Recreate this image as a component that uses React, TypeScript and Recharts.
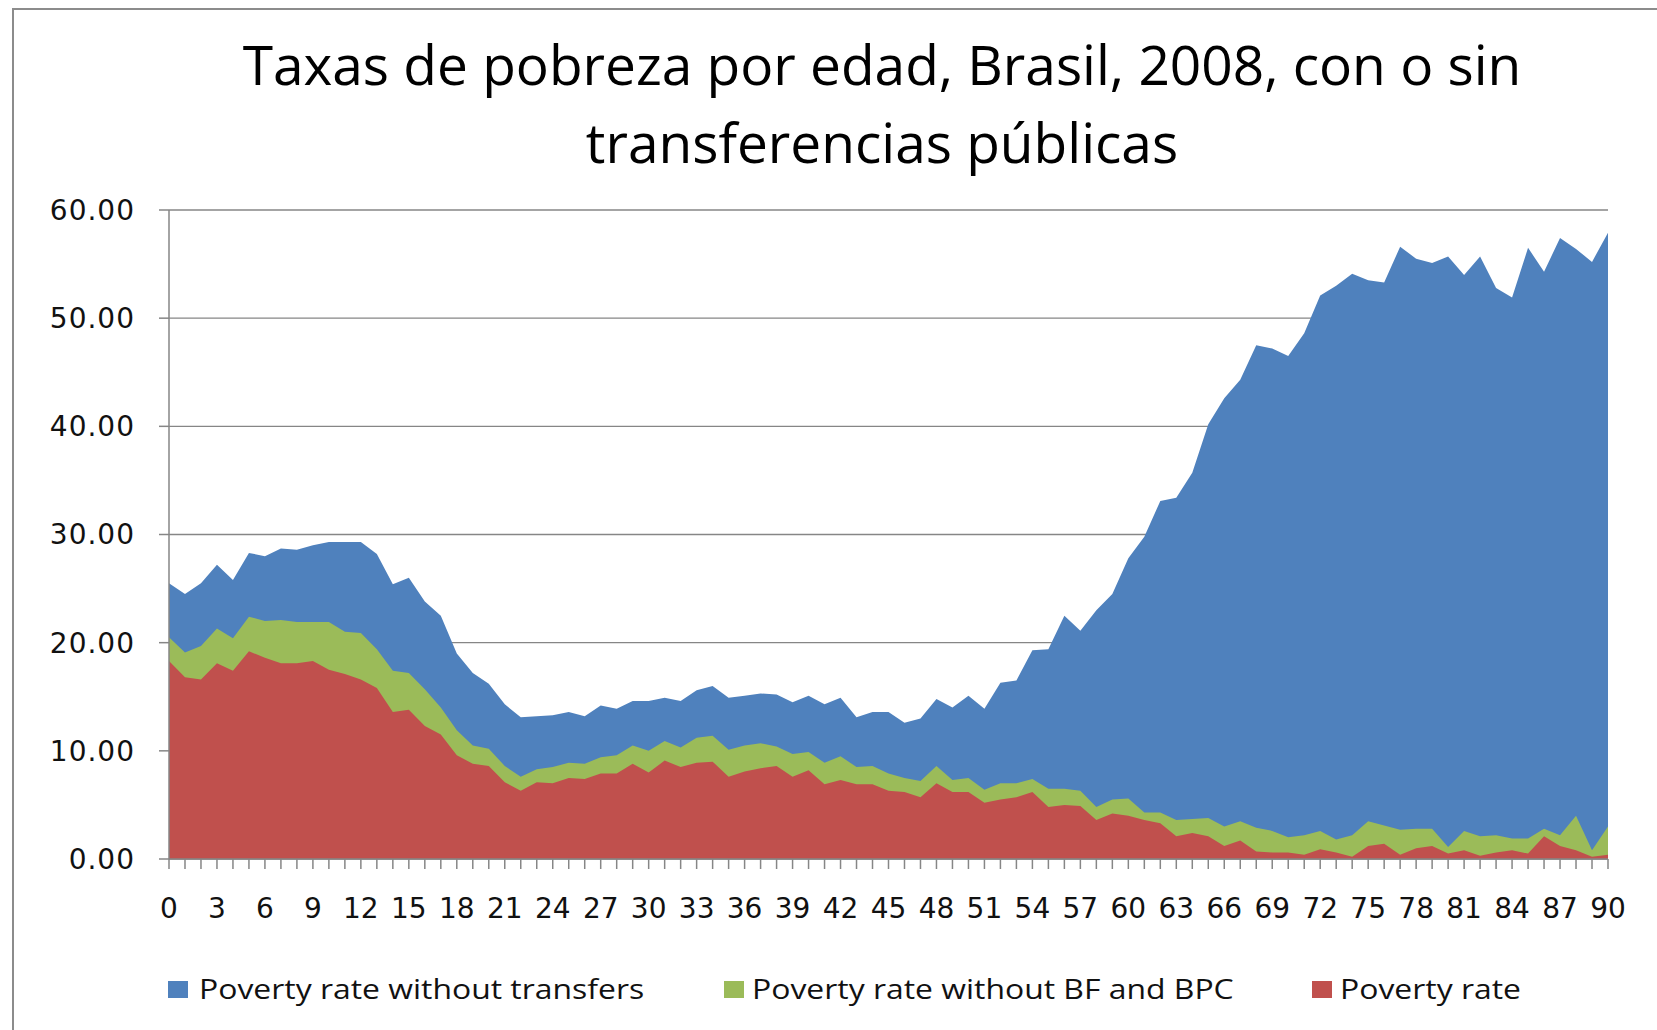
import React from 'react';
import { AreaChart, Area, XAxis, YAxis, CartesianGrid, Legend } from 'recharts';

const AGES = [
  0, 1, 2, 3, 4, 5, 6, 7, 8, 9, 10, 11, 12, 13, 14, 15, 16, 17, 18, 19, 20,
  21, 22, 23, 24, 25, 26, 27, 28, 29, 30, 31, 32, 33, 34, 35, 36, 37, 38, 39, 40,
  41, 42, 43, 44, 45, 46, 47, 48, 49, 50, 51, 52, 53, 54, 55, 56, 57, 58, 59, 60,
  61, 62, 63, 64, 65, 66, 67, 68, 69, 70, 71, 72, 73, 74, 75, 76, 77, 78, 79, 80,
  81, 82, 83, 84, 85, 86, 87, 88, 89, 90,
];

const WITHOUT_TRANSFERS = [
  25.5, 24.5, 25.5, 27.2, 25.8, 28.3, 28.0, 28.7, 28.6, 29.0, 29.3, 29.3, 29.3, 28.2, 25.4, 26.0, 23.8, 22.5, 19.0, 17.2, 16.2,
  14.3, 13.1, 13.2, 13.3, 13.6, 13.2, 14.2, 13.9, 14.6, 14.6, 14.9, 14.6, 15.6, 16.0, 14.9, 15.1, 15.3, 15.2, 14.5, 15.1,
  14.3, 14.9, 13.1, 13.6, 13.6, 12.6, 13.0, 14.8, 14.0, 15.1, 13.9, 16.3, 16.5, 19.3, 19.4, 22.5, 21.1, 23.0, 24.5, 27.8,
  29.8, 33.1, 33.4, 35.7, 40.2, 42.6, 44.3, 47.5, 47.2, 46.5, 48.6, 52.1, 53.0, 54.1, 53.5, 53.3, 56.6, 55.5, 55.1, 55.7,
  54.0, 55.7, 52.8, 51.9, 56.5, 54.3, 57.4, 56.4, 55.2, 57.9,
];

const WITHOUT_BF_BPC = [
  20.5, 19.1, 19.7, 21.3, 20.4, 22.4, 22.0, 22.1, 21.9, 21.9, 21.9, 21.0, 20.9, 19.4, 17.4, 17.2, 15.7, 14.0, 11.9, 10.5, 10.2,
  8.6, 7.6, 8.3, 8.5, 8.9, 8.8, 9.4, 9.6, 10.5, 10.0, 10.9, 10.3, 11.2, 11.4, 10.1, 10.5, 10.7, 10.4, 9.7, 9.9,
  8.9, 9.5, 8.5, 8.6, 7.9, 7.5, 7.2, 8.6, 7.3, 7.5, 6.4, 7.0, 7.0, 7.4, 6.5, 6.5, 6.3, 4.8, 5.5, 5.6,
  4.3, 4.3, 3.6, 3.7, 3.8, 3.0, 3.5, 2.9, 2.6, 2.0, 2.2, 2.6, 1.8, 2.2, 3.5, 3.1, 2.7, 2.8, 2.8, 1.1,
  2.6, 2.1, 2.2, 1.9, 1.9, 2.8, 2.2, 4.0, 0.8, 3.0,
];

const POVERTY_RATE = [
  18.3, 16.8, 16.6, 18.1, 17.4, 19.2, 18.6, 18.1, 18.1, 18.3, 17.5, 17.1, 16.6, 15.8, 13.6, 13.8, 12.3, 11.5, 9.6, 8.8, 8.6,
  7.1, 6.3, 7.1, 7.0, 7.5, 7.4, 7.9, 7.9, 8.8, 8.0, 9.1, 8.5, 8.9, 9.0, 7.6, 8.1, 8.4, 8.6, 7.6, 8.2,
  6.9, 7.3, 6.9, 6.9, 6.3, 6.2, 5.7, 7.0, 6.2, 6.2, 5.2, 5.5, 5.7, 6.2, 4.8, 5.0, 4.9, 3.6, 4.2, 4.0,
  3.6, 3.3, 2.1, 2.4, 2.1, 1.2, 1.7, 0.7, 0.6, 0.6, 0.4, 0.9, 0.6, 0.2, 1.2, 1.4, 0.4, 1.0, 1.2, 0.5,
  0.8, 0.3, 0.6, 0.8, 0.5, 2.1, 1.2, 0.8, 0.2, 0.4,
];

const Y_TICKS = [0, 10, 20, 30, 40, 50, 60];

const SERIES_NAMES = [
  'Poverty rate without transfers',
  'Poverty rate without BF and BPC',
  'Poverty rate',
];
const SERIES_KEYS = ['noTransfers', 'noBfBpc', 'rate'];
const SERIES_COLORS = ['#4F81BD', '#9BBB59', '#C0504D'];

const TITLE_LINES = ['Taxas de pobreza por edad, Brasil, 2008, con o sin', 'transferencias públicas'];

const data = AGES.map((age, i) => ({
  age,
  noTransfers: WITHOUT_TRANSFERS[i],
  noBfBpc: WITHOUT_BF_BPC[i],
  rate: POVERTY_RATE[i],
}));

const AXIS_GRAY = '#868686';
const TICK_FONT = { fontFamily: '"DejaVu Sans", Verdana, sans-serif', fontSize: 28, fill: '#111' };

const XTick = (props: any) => {
  const { x, y, payload } = props;
  if (payload.value % 3 !== 0) return null;
  return (
    <text x={x} y={y} dy="0.71em" textAnchor="middle" {...TICK_FONT}>
      {payload.value}
    </text>
  );
};

const YTick = (props: any) => {
  const { x, y, payload } = props;
  return (
    <text x={x} y={y} dy="0.355em" textAnchor="end" letterSpacing={1} {...TICK_FONT}>
      {Number(payload.value).toFixed(2)}
    </text>
  );
};

const LEGEND_POS = [
  { sq: 168, tx: 199 },
  { sq: 724, tx: 752 },
  { sq: 1312, tx: 1340 },
];

const LegendContent = () => (
  <div style={{ position: 'relative', width: 1657, height: 40 }}>
    {SERIES_NAMES.map((name, i) => (
      <div key={name}>
        <div
          style={{
            position: 'absolute',
            left: LEGEND_POS[i].sq,
            top: 12,
            width: 20,
            height: 17,
            background: SERIES_COLORS[i],
          }}
        />
        <div
          style={{
            position: 'absolute',
            left: LEGEND_POS[i].tx,
            top: 0,
            height: 40,
            lineHeight: '40px',
            fontFamily: '"Open Sans", sans-serif',
            fontSize: 27.5,
            color: '#111',
            whiteSpace: 'nowrap',
            transform: 'scaleX(1.16)',
            transformOrigin: 'left center',
          }}
        >
          {name}
        </div>
      </div>
    ))}
  </div>
);

export default function App() {
  return (
    <div
      style={{
        position: 'absolute',
        left: 0,
        top: 0,
        width: 1657,
        height: 1030,
        overflow: 'hidden',
        background: '#fff',
      }}
    >
      <div
        style={{
          position: 'absolute',
          left: 12,
          top: 8,
          width: 1720,
          height: 1100,
          border: '2px solid #8c8c8c',
          boxSizing: 'border-box',
        }}
      />
      <div
        style={{
          position: 'absolute',
          left: 82,
          top: 25,
          width: 1600,
          textAlign: 'center',
          fontFamily: '"Open Sans", sans-serif',
          fontSize: 55,
          lineHeight: '78px',
          color: '#000',
        }}
      >
        {TITLE_LINES.map((l) => (
          <div key={l}>{l}</div>
        ))}
      </div>
      <div style={{ position: 'absolute', left: 0, top: 0 }}>
        <AreaChart
          width={1657}
          height={1030}
          data={data}
          margin={{ top: 210, right: 49, bottom: 0, left: 0 }}
        >
          <CartesianGrid vertical={false} stroke={AXIS_GRAY} strokeWidth={1.3} />
          <XAxis
            dataKey="age"
            type="number"
            domain={[0, 90]}
            ticks={AGES}
            interval={0}
            height={171}
            tickSize={10}
            tickMargin={29}
            tick={<XTick />}
            axisLine={{ stroke: AXIS_GRAY, strokeWidth: 1.5 }}
            tickLine={{ stroke: AXIS_GRAY, strokeWidth: 1.5 }}
          />
          <YAxis
            domain={[0, 60]}
            ticks={Y_TICKS}
            interval={0}
            width={169}
            tickSize={10}
            tickMargin={24}
            tick={<YTick />}
            axisLine={{ stroke: AXIS_GRAY, strokeWidth: 1.5 }}
            tickLine={{ stroke: AXIS_GRAY, strokeWidth: 1.5 }}
          />
          {SERIES_KEYS.map((k, i) => (
            <Area
              key={k}
              dataKey={k}
              name={SERIES_NAMES[i]}
              type="linear"
              stroke="none"
              fill={SERIES_COLORS[i]}
              fillOpacity={1}
              isAnimationActive={false}
              dot={false}
              activeDot={false}
            />
          ))}
          <Legend
            layout="horizontal"
            verticalAlign="middle"
            align="center"
            content={<LegendContent />}
            wrapperStyle={{ left: 0, top: 969, width: 1657, height: 40 }}
          />
        </AreaChart>
      </div>
    </div>
  );
}
